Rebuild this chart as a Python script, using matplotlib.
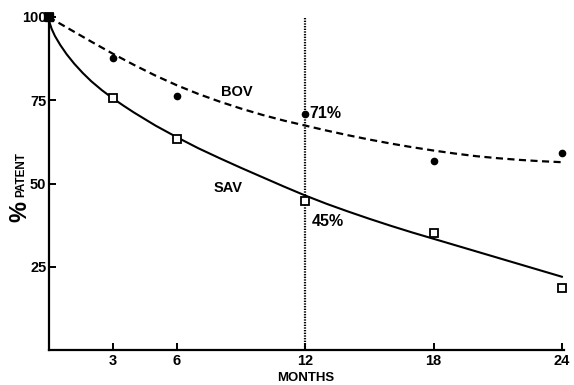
import matplotlib
matplotlib.use("Agg")
import matplotlib.pyplot as plt

# Observed data points
months_pts = [0, 3, 6, 12, 18, 24]
bov_pts = [100, 87.6, 76.2, 70.8, 56.7, 59.1]
sav_pts = [100, 75.6, 63.4, 44.8, 35.1, 18.6]

# Fitted curves
bov_curve_x = [0, 1, 2, 3, 4, 5, 6, 7, 8, 9, 10, 11, 12, 13, 14, 15, 16, 17, 18, 19, 20, 21, 22, 23, 24]
bov_curve_y = [100, 96.3, 92.6, 89.0, 85.6, 82.4, 79.5, 76.9, 74.6, 72.5, 70.6, 68.9, 67.4, 65.9, 64.5, 63.2, 62.0, 60.9, 59.9, 59.0, 58.2, 57.6, 57.1, 56.7, 56.4]
sav_curve_x = [0, 0.05, 0.15, 0.3, 0.55, 0.85, 1.2, 1.6, 2.0, 2.5, 3, 3.5, 4, 5, 6, 7, 8, 9, 10, 11, 12, 13, 14, 15, 16, 17, 18, 19, 20, 21, 22, 23, 24]
sav_curve_y = [100, 98.3, 96.4, 94.3, 91.6, 88.8, 86.0, 83.2, 80.7, 78.0, 75.6, 73.4, 71.3, 67.4, 63.9, 60.6, 57.6, 54.7, 51.9, 49.1, 46.4, 43.9, 41.6, 39.4, 37.3, 35.3, 33.4, 31.5, 29.6, 27.7, 25.8, 23.9, 22.0]

x_ticks = [3, 6, 12, 18, 24]
y_ticks = [25, 50, 75, 100]
vline_month = 12

plt.rcParams['font.family'] = ['Liberation Sans', 'DejaVu Sans']
plt.rcParams['font.weight'] = 'bold'

fig = plt.figure(figsize=(5.74, 3.85), dpi=100)
ax = fig.add_axes([48.5/574, 1-350/385, (564-48.5)/574, (350-17)/385])

ax.plot(bov_curve_x, bov_curve_y, color='black', lw=1.6, ls=(0, (3.2, 2.0)), clip_on=False)
ax.plot(sav_curve_x, sav_curve_y, color='black', lw=1.5, clip_on=False)
ax.plot(months_pts, bov_pts, 'o', color='black', ms=4.5, clip_on=False, zorder=5)
ax.plot(months_pts, sav_pts, 's', mfc='white', mec='black', mew=1.3, ms=5.5, clip_on=False, zorder=5)
ax.plot([0], [100], 's', color='black', ms=6, clip_on=False, zorder=6)
ax.axvline(vline_month, color='black', lw=1.6, ls=(0, (0.6, 0.6)), ymax=1.0)

ax.set_xlim(0, 24.1)
ax.set_ylim(0, 100)
ax.spines['top'].set_visible(False)
ax.spines['right'].set_visible(False)
for s in ['left', 'bottom']:
    ax.spines[s].set_linewidth(1.6)
ax.spines['left'].set_bounds(0, 100)

ax.set_xticks(x_ticks)
ax.set_xticklabels([str(t) for t in x_ticks], fontsize=10.5, fontweight='bold')
ax.set_yticks(y_ticks)
ax.set_yticklabels([str(t) for t in y_ticks], fontsize=10.5, fontweight='bold')
ax.tick_params(axis='y', direction='in', length=5, width=1.4, pad=1.5)
ax.tick_params(axis='x', direction='in', length=5, width=1.4, pad=3)

ax.text(8.8, 77.5, 'BOV', fontsize=10.5, fontweight='bold', ha='center', va='center')
ax.text(8.4, 48.6, 'SAV', fontsize=10.5, fontweight='bold', ha='center', va='center')
ax.text(12.2, 71.0, '71%', fontsize=11.5, fontweight='bold', ha='left', va='center')
ax.text(12.3, 38.5, '45%', fontsize=11.5, fontweight='bold', ha='left', va='center')

fig.text(306/574, 1-378/385, 'MONTHS', fontsize=9.5, fontweight='bold', ha='center', va='center')
fig.text(20/574, 1-212/385, '%', fontsize=17, fontweight='bold', ha='center', va='center', rotation=90)
fig.text(21/574, 1-175/385, 'PATENT', fontsize=8.5, fontweight='bold', ha='center', va='center', rotation=90)

fig.savefig('out.png', dpi=100)
